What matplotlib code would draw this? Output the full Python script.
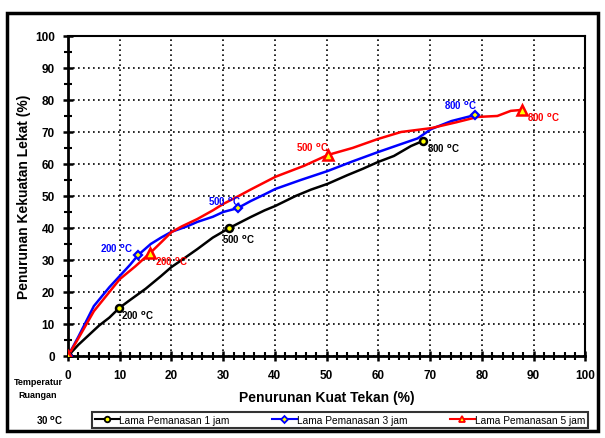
import numpy as np
import matplotlib.pyplot as plt
from matplotlib.patches import Rectangle

plt.rcParams['font.family'] = ['Liberation Sans', 'DejaVu Sans']

# kurva hasil pengukuran (penurunan kuat tekan vs penurunan kekuatan lekat)
x_1jam = [0, 2, 4, 6, 8, 9.9, 12, 15, 18, 20, 22, 25, 28, 31.2, 33, 35.3, 38, 40.1, 44, 47, 50.2, 54, 57, 59.9, 63, 66.3, 68.6]
y_1jam = [0, 3.5, 6.5, 9.5, 12, 15, 17.5, 21, 25, 27.8, 30, 33.4, 37, 40, 41.5, 43.4, 45.5, 46.9, 50, 52, 53.8, 56.5, 58.5, 60.6, 62.5, 65.6, 67.2]

x_3jam = [0, 2, 5, 8, 10, 12, 13.6, 16, 18, 20, 23, 25, 28, 30, 32.8, 35.3, 38, 40.1, 45, 50.2, 55, 59.9, 64, 67.6, 70.2, 74.1, 78.7]
y_3jam = [0, 6, 15.6, 21.5, 25, 28.5, 31.6, 35, 37, 38.8, 40.5, 41.9, 43.5, 45, 46.2, 48.4, 50.5, 52.2, 55, 57.8, 60.8, 63.7, 66, 68, 70.9, 73.4, 75.3]

x_5jam = [0, 2, 5, 8, 10, 13, 15.9, 18, 20, 22, 25, 28, 30, 33, 35.3, 40.1, 45.6, 50.2, 55, 59.9, 64.4, 70.2, 75, 79.2, 83, 85.6, 87.8]
y_5jam = [0, 5.5, 14, 20, 24, 28, 32.2, 35.5, 38.7, 40.5, 42.8, 45.5, 47.5, 50, 52.0, 56.0, 59.4, 62.8, 65, 67.8, 70, 71.2, 73, 74.7, 75, 76.6, 76.9]

# titik suhu pemanasan: 30 (ruangan), 200, 500, 800 C
suhu = ['', '200', '500', '800']
px_1jam = [0, 9.9, 31.2, 68.6]
py_1jam = [0, 15.0, 40.0, 67.2]
px_3jam = [0, 13.6, 32.8, 78.7]
py_3jam = [0, 31.6, 46.2, 75.3]
px_5jam = [0, 15.9, 50.2, 87.8]
py_5jam = [0, 32.2, 62.8, 76.9]

fig = plt.figure(figsize=(6.05, 4.39), dpi=100)
ax = fig.add_axes([0.1124, 0.1868, 0.855, 0.729])

ax.plot(x_1jam, y_1jam, color='black', lw=1.8, zorder=3)
ax.plot(x_3jam, y_3jam, color='blue', lw=1.8, zorder=3)
ax.plot(x_5jam, y_5jam, color='red', lw=1.8, zorder=3)

ax.plot(px_1jam, py_1jam, ls='none', marker='o', ms=5, mfc='yellow', mec='black', mew=1.8, zorder=4)
ax.plot(px_3jam, py_3jam, ls='none', marker='D', ms=4, mfc='yellow', mec='blue', mew=1.6, zorder=4)
ax.plot(px_5jam, py_5jam, ls='none', marker='^', ms=7, mfc='yellow', mec='red', mew=1.8, zorder=5)

# legend handles
ax.plot([], [], color='black', lw=1.5, marker='o', ms=4, mfc='yellow', mec='black', mew=1.3, label='Lama Pemanasan 1 jam')
ax.plot([], [], color='blue', lw=1.5, marker='D', ms=3.5, mfc='yellow', mec='blue', mew=1.3, label='Lama Pemanasan 3 jam')
ax.plot([], [], color='red', lw=1.5, marker='^', ms=5, mfc='yellow', mec='red', mew=1.3, label='Lama Pemanasan 5 jam')

lbl = dict(fontsize=7, fontweight='bold')
deg = ' $^{\\mathbf{o}}$C'
ax.text(px_1jam[1] + 0.3, py_1jam[1] - 0.3, suhu[1] + deg, color='black', va='top', ha='left', **lbl)
ax.text(px_1jam[2] - 1.5, py_1jam[2] - 1.5, suhu[2] + deg, color='black', va='top', ha='left', **lbl)
ax.text(px_1jam[3] + 0.8, py_1jam[3] - 0.3, suhu[3] + deg, color='black', va='top', ha='left', **lbl)
ax.text(px_3jam[1] - 1.0, py_3jam[1] + 0.3, suhu[1] + deg, color='blue', va='bottom', ha='right', **lbl)
ax.text(px_3jam[2] + 0.6, py_3jam[2] + 0.3, suhu[2] + deg, color='blue', va='bottom', ha='right', **lbl)
ax.text(px_3jam[3] + 0.4, py_3jam[3] + 1.2, suhu[3] + deg, color='blue', va='bottom', ha='right', **lbl)
ax.text(px_5jam[1] + 1.0, py_5jam[1] - 0.5, suhu[1] + deg, color='red', va='top', ha='left', **lbl)
ax.text(px_5jam[2] + 0.3, py_5jam[2] + 0.5, suhu[2] + deg, color='red', va='bottom', ha='right', **lbl)
ax.text(px_5jam[3] + 1.0, py_5jam[3] - 0.3, suhu[3] + deg, color='red', va='top', ha='left', **lbl)

ax.set_xlim(0, 100)
ax.set_ylim(0, 100)
ax.set_xticks(np.arange(0, 101, 10))
ax.set_xticks(np.arange(0, 101, 2), minor=True)
ax.set_yticks(np.arange(0, 101, 10))
ax.set_yticks(np.arange(0, 101, 5), minor=True)
ax.tick_params(which='major', direction='inout', length=7, width=1.8, labelsize=8.5, pad=6)
ax.tick_params(which='minor', direction='inout', length=6, width=1.5)
for t in ax.get_xticklabels() + ax.get_yticklabels():
    t.set_fontweight('bold')
ax.grid(True, which='major', color='black', ls=(0, (1, 2)), lw=1.2)

ax.spines['left'].set_linewidth(2)
ax.spines['bottom'].set_linewidth(2)
ax.spines['right'].set_linewidth(1.5)
ax.spines['top'].set_linestyle((0, (1, 1)))
ax.spines['top'].set_linewidth(1.5)

ax.set_xlabel('Penurunan Kuat Tekan (%)', fontsize=10, fontweight='bold', labelpad=6)
ax.set_ylabel('Penurunan Kekuatan Lekat (%)', fontsize=10, fontweight='bold', labelpad=3)

fig.text(38 / 605, 1 - 389 / 439, 'Temperatur\nRuangan', fontsize=6.5, fontweight='bold',
         ha='center', va='center', linespacing=1.6)
fig.text(50 / 605, 1 - 421 / 439, '30 $^{\\mathbf{o}}$C', fontsize=7, fontweight='bold',
         ha='center', va='center')

leg = fig.legend(loc='center', bbox_to_anchor=(340 / 605, 1 - 421 / 439), ncol=3, fontsize=7.3,
                 frameon=True, fancybox=False, handlelength=2.4, handletextpad=0.05,
                 columnspacing=4.2, borderpad=0.25, borderaxespad=0)
leg.get_frame().set_edgecolor('black')
leg.get_frame().set_linewidth(1.5)

fig.patches.append(Rectangle((7 / 605, 1 - 432 / 439), 591 / 605, 418 / 439, transform=fig.transFigure,
                             fill=False, edgecolor='black', lw=2.5))

fig.savefig('out.png', dpi=100)
